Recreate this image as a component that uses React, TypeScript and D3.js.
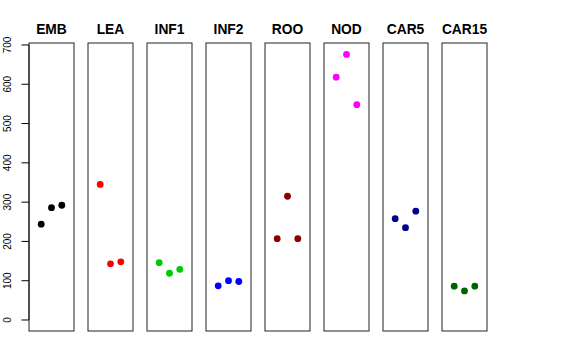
import React from "react";
import * as d3 from "d3";

// one panel per tissue, three replicate values each
const tissues = ["EMB", "LEA", "INF1", "INF2", "ROO", "NOD", "CAR5", "CAR15"];
const colours = ["#000000", "#FF0000", "#00CD00", "#0000FF", "#8B0000", "#FF00FF", "#00008B", "#006400"];
const values = [
  [244, 286, 292],
  [345, 143, 148],
  [146, 119, 129],
  [87, 100, 98],
  [207, 315, 207],
  [618, 676, 548],
  [258, 235, 277],
  [86, 74, 86],
];
const yTicks = [0, 100, 200, 300, 400, 500, 600, 700];

const width = 576;
const height = 360;
const plotTop = 43;
const plotBottom = 331;
const firstLeft = 29;
const panelW = 45;
const panelStep = 59;

export default function App() {
  const y = d3.scaleLinear().domain([-28, 705]).range([plotBottom, plotTop]);
  const panelX = d3
    .scaleLinear()
    .domain([0, tissues.length - 1])
    .range([firstLeft, firstLeft + panelStep * (tissues.length - 1)]);
  // replicate position inside a panel
  const jitter = d3.scalePoint<number>().domain([0, 1, 2]).range([-10.3, 10.3]);

  return (
    <svg
      width={width}
      height={height}
      style={{ position: "absolute", left: 0, top: 0, background: "#fff" }}
      fontFamily="'Liberation Sans', Arial, sans-serif"
    >
      {/* left axis */}
      <line x1={firstLeft} x2={firstLeft} y1={y(0)} y2={y(700)} stroke="#000" />
      {yTicks.map((t) => (
        <g key={t}>
          <line x1={firstLeft - 7.5} x2={firstLeft} y1={y(t)} y2={y(t)} stroke="#000" />
          <text
            transform={`translate(11,${y(t)}) rotate(-90)`}
            textAnchor="middle"
            fontSize={10}
            fill="#000"
          >
            {t}
          </text>
        </g>
      ))}

      {tissues.map((name, i) => {
        const left = panelX(i);
        const cx = left + panelW / 2;
        return (
          <g key={name}>
            <rect
              x={left}
              y={plotTop}
              width={panelW}
              height={plotBottom - plotTop}
              fill="none"
              stroke="#222"
            />
            <text x={cx} y={33.5} textAnchor="middle" fontSize={13.8} fontWeight="bold">
              {name}
            </text>
            {values[i].map((v, j) => (
              <circle key={j} cx={cx + (jitter(j) ?? 0)} cy={y(v)} r={3.4} fill={colours[i]} />
            ))}
          </g>
        );
      })}
    </svg>
  );
}
